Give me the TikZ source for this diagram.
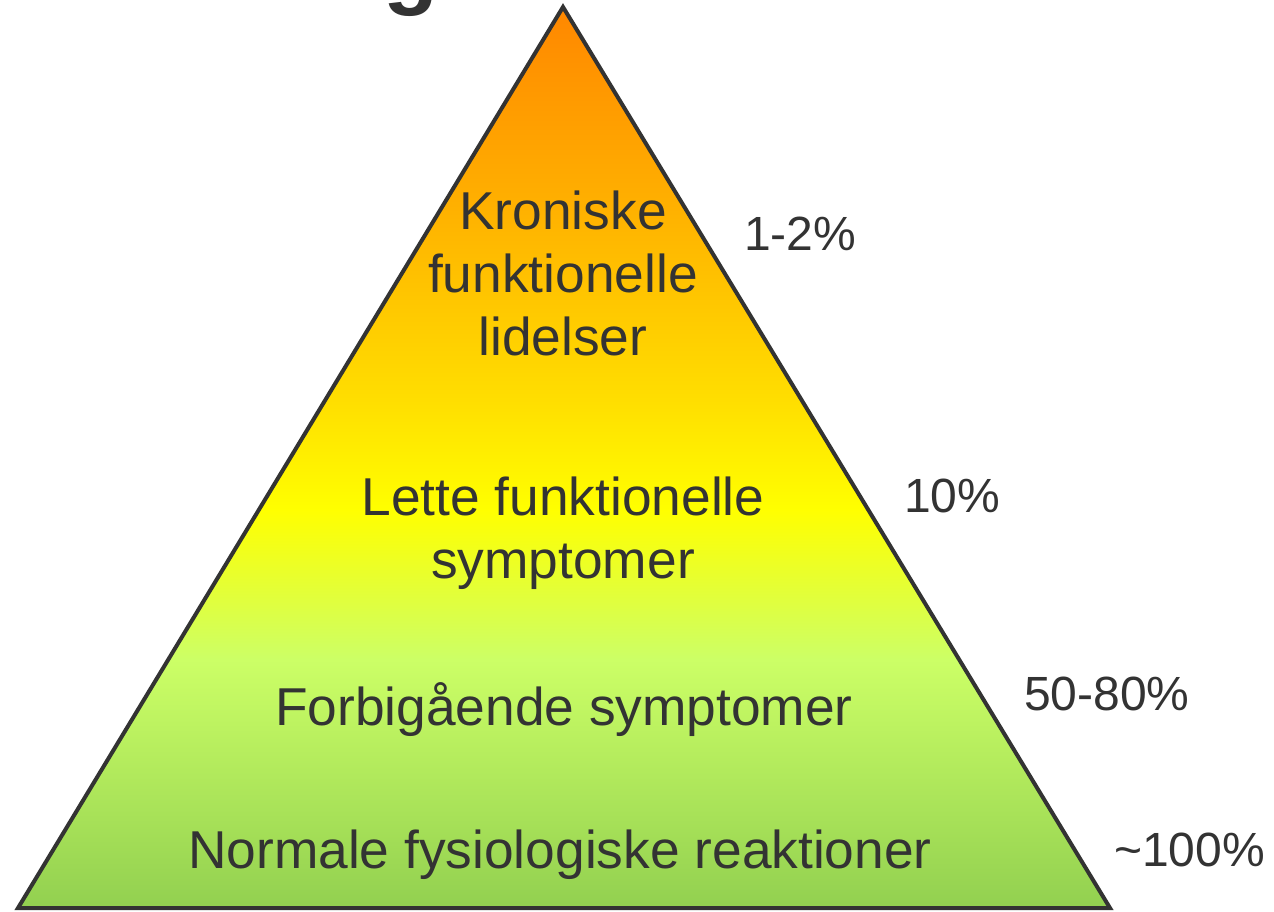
\documentclass[tikz,border=0pt]{standalone}
\usepackage{fontspec}
\setmainfont{Liberation Sans}
\usepackage{xcolor}
\definecolor{textgray}{RGB}{51, 51, 51}
\definecolor{edgegray}{RGB}{51, 51, 51}
\definecolor{shadegreen}{RGB}{146, 208, 80}
\definecolor{shadelime}{RGB}{204, 255, 102}
\definecolor{shadeyellow}{RGB}{255, 255, 0}
\definecolor{shadegold}{RGB}{255, 222, 0}
\definecolor{shadeamber}{RGB}{255, 175, 0}
\definecolor{shadeorange}{RGB}{255, 135, 0}
\usetikzlibrary{positioning}
\pgfdeclareverticalshading{pyramidshade}{100bp}{%
  color(0bp)=(shadegreen); color(25bp)=(shadegreen);
  color(38.8bp)=(shadelime); color(47.1bp)=(shadeyellow);
  color(53.2bp)=(shadegold); color(64.3bp)=(shadeamber);
  color(75bp)=(shadeorange); color(100bp)=(shadeorange)}

\begin{document}
\begin{tikzpicture}[
    x=1pt, y=-1pt,
    pyramid/.style={
        shading=pyramidshade,
        draw=edgegray,
        line width=4pt,
        line join=miter
    },
    level/.style={
        anchor=base,
        inner sep=0pt,
        align=center,
        text=textgray,
        font=\fontsize{53.3}{63}\selectfont
    },
    share/.style={
        anchor=base west,
        inner sep=0pt,
        text=textgray,
        font=\fontsize{48}{56}\selectfont
    }
]
    \useasboundingbox (0,0) rectangle (1274,911);

    % Cut-off title
    \node[anchor=base west, inner sep=0pt, text=textgray,
          font=\fontsize{90}{100}\selectfont\bfseries] (title) at (383,-3) {g};

    % Pyramid
    \coordinate (apex) at (563,7);
    \coordinate (left) at (18,908);
    \coordinate (right) at (1110,908);
    \draw[pyramid] (apex) -- (right) -- (left) -- cycle;

    % Levels (base = last line)
    \node[level] (chronic) at (563,355) {Kroniske\\funktionelle\\lidelser};
    \node[level] (mild) at (563,578) {Lette funktionelle\\symptomer};
    \node[level] (transient) at (564,725) {Forbigående symptomer};
    \node[level] (normal) at (560,868) {Normale fysiologiske reaktioner};

    % Shares
    \node[share] (pchronic) at (744,250) {1-2\%};
    \node[share] (pmild) at (904,512) {10\%};
    \node[share] (ptransient) at (1024,710) {50-80\%};
    \node[share] (pnormal) at (1114,866) {\textasciitilde100\%};
\end{tikzpicture}
\end{document}
